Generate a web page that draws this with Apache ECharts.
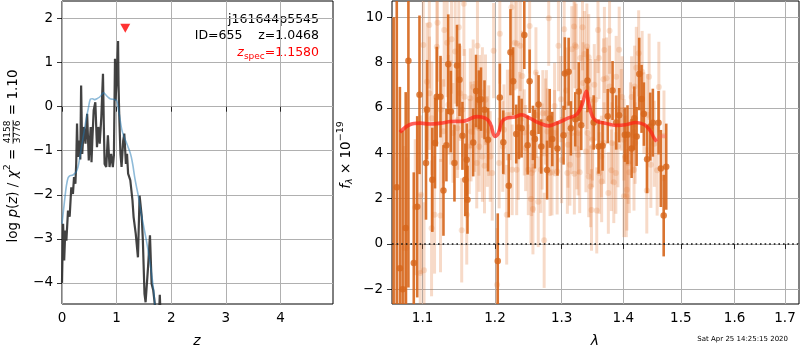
<!DOCTYPE html>
<html>
<head>
<meta charset="utf-8">
<script src="https://cdn.jsdelivr.net/npm/echarts@6/dist/echarts.min.js"></script>
<style>
  html, body { margin: 0; padding: 0; background: #fff; }
  #chart { width: 800px; height: 350px; }
</style>
</head>
<body>
<div id="chart"></div>
<script>
// ---- redshift probability panel ----
const zGrid = [0, 0.02, 0.04, 0.06, 0.08, 0.11, 0.14, 0.17, 0.2, 0.22, 0.245, 0.26, 0.275, 0.29, 0.32, 0.335, 0.35, 0.37, 0.40, 0.43, 0.46, 0.49, 0.525, 0.54, 0.555, 0.58, 0.61, 0.64, 0.665, 0.69, 0.72, 0.75, 0.765, 0.78, 0.81, 0.84, 0.87, 0.90, 0.93, 0.95, 0.97, 0.98, 1.0, 1.01, 1.026, 1.035, 1.045, 1.07, 1.09, 1.12, 1.14, 1.16, 1.17, 1.19, 1.21, 1.25, 1.29, 1.31, 1.35, 1.39, 1.42, 1.435, 1.46, 1.48, 1.51, 1.53, 1.545, 1.575, 1.61, 1.64, 1.67, 1.70, 1.74, 1.78, 1.79, 1.80];
const logPz = [-4.0, -2.66, -3.49, -2.81, -3.04, -2.36, -2.5, -1.83, -1.98, -1.6, -1.75, -1.3, -0.38, -1.14, -0.77, -1.2, 0.48, -1.07, -0.46, -0.84, -0.16, -1.22, -0.46, -1.26, -0.77, -0.08, 0.1, -0.92, -0.46, -0.84, -0.23, 0.75, -0.4, -1.3, -1.37, -0.65, -1.37, -1.07, -1.37, -1.1, 1.09, 0.14, 0.6, 0.94, 1.49, 0.5, -0.08, -1.07, -1.37, -0.77, -0.61, -0.61, -1.3, -1.07, -1.52, -1.67, -2.13, -2.5, -2.89, -3.42, -2.02, -2.05, -2.5, -3.04, -4.25, -4.44, -4.4, -3.64, -2.92, -4.02, -4.17, -4.5, -4.6, -4.6, -4.27, -4.6];
const zSmooth = [0, 0.05, 0.08, 0.11, 0.14, 0.17, 0.2, 0.23, 0.26, 0.29, 0.32, 0.36, 0.4, 0.44, 0.48, 0.52, 0.56, 0.6, 0.65, 0.69, 0.73, 0.76, 0.8, 0.84, 0.88, 0.93, 0.97, 1.0, 1.02, 1.04, 1.07, 1.1, 1.14, 1.18, 1.21, 1.24, 1.27, 1.3, 1.33, 1.36, 1.39, 1.42, 1.45, 1.5, 1.545, 1.6, 1.64, 1.68, 1.70, 1.72];
const logPzSmooth = [-2.66, -2.1, -1.8, -1.62, -1.57, -1.56, -1.55, -1.52, -1.48, -1.38, -1.2, -0.9, -0.6, -0.3, -0.05, 0.17, 0.18, 0.16, 0.19, 0.22, 0.28, 0.32, 0.27, 0.22, 0.18, 0.17, 0.16, 0.14, 0.05, -0.1, -0.35, -0.55, -0.7, -0.82, -0.92, -1.02, -1.15, -1.35, -1.6, -1.8, -1.98, -2.2, -2.43, -2.75, -3.04, -3.45, -3.8, -4.2, -4.5, -4.75];
const zSpecMarker = [1.158, 1.78];
const zTicks = [0, 1, 2, 3, 4];
const logPzTicks = [-4, -3, -2, -1, 0, 1, 2];

// ---- spectrum panel ----
const lamTicks = [1.1, 1.2, 1.3, 1.4, 1.5, 1.6, 1.7];
const fluxTicks = [-2, 0, 2, 4, 6, 8, 10];

// main grism extraction
const lamMain = [1.0625, 1.0665, 1.0705, 1.074, 1.078, 1.0815, 1.0885, 1.093, 1.096, 1.1046, 1.106, 1.113, 1.1166, 1.119, 1.124, 1.128, 1.132, 1.1345, 1.138, 1.143, 1.1465, 1.15, 1.154, 1.158, 1.16, 1.161, 1.169, 1.173, 1.177, 1.18, 1.185, 1.19, 1.204, 1.207, 1.212, 1.22, 1.2225, 1.2265, 1.231, 1.235, 1.239, 1.243, 1.248, 1.251, 1.256, 1.259, 1.2645, 1.2685, 1.2775, 1.2815, 1.2855, 1.2935, 1.303, 1.305, 1.311, 1.3145, 1.3215, 1.327, 1.331, 1.341, 1.351, 1.359, 1.3655, 1.374, 1.382, 1.388, 1.393, 1.4025, 1.407, 1.414, 1.4185, 1.4225, 1.427, 1.431, 1.435, 1.4405, 1.446, 1.4505, 1.4605, 1.4645, 1.4695, 1.474];
const fluxMain = [-4.0, 2.5, -1.07, -2.0, 0.70, 8.08, -0.84, 1.64, 6.58, 3.57, 5.92, 2.83, 4.45, 6.5, 6.5, 2.36, 4.36, 7.93, 5.84, 3.57, 7.87, 7.24, 4.77, 2.83, 3.72, 1.95, 4.48, 6.75, 6.36, 6.39, 5.92, 4.6, -0.75, 6.46, 4.49, 2.57, 8.46, 7.18, 4.85, 5.14, 5.11, 9.22, 4.36, 7.18, 4.9, 4.63, 6.15, 4.3, 3.26, 5.54, 4.63, 4.21, 4.8, 7.52, 7.6, 5.1, 5.5, 6.73, 5.24, 7.21, 5.36, 4.3, 4.33, 5.64, 6.77, 5.36, 5.68, 4.82, 4.82, 4.21, 5.55, 4.74, 7.5, 6.4, 5.73, 3.74, 5.18, 5.35, 5.35, 3.33, 1.25, 3.41];
const errMain = [14, 9, 8, 7, 6, 10, 4, 4, 3.5, 2.5, 2.2, 2.3, 2.0, 2.2, 1.8, 2.0, 1.6, 2.2, 1.8, 1.7, 1.8, 1.6, 1.5, 1.6, 1.6, 1.5, 1.5, 1.6, 1.3, 1.4, 1.3, 1.4, 2.1, 1.5, 1.4, 1.4, 1.9, 1.5, 1.3, 1.4, 1.3, 1.5, 1.3, 1.4, 1.2, 1.3, 1.3, 1.2, 1.3, 1.3, 1.2, 1.2, 1.3, 1.6, 1.5, 1.2, 1.2, 1.3, 1.1, 1.4, 1.2, 1.2, 1.1, 1.2, 1.3, 1.2, 1.2, 1.2, 1.3, 1.3, 1.4, 1.3, 1.6, 1.5, 1.4, 1.5, 1.5, 1.5, 1.4, 1.7, 1.8, 1.9];

// other exposures (drawn faint)
const lamOther = [1.076, 1.079, 1.097, 1.098, 1.101, 1.102, 1.109, 1.112, 1.116, 1.12, 1.124, 1.129, 1.133, 1.138, 1.139, 1.144, 1.147, 1.149, 1.153, 1.156, 1.16, 1.165, 1.166, 1.169, 1.175, 1.177, 1.178, 1.182, 1.185, 1.189, 1.191, 1.196, 1.198, 1.203, 1.207, 1.213, 1.217, 1.222, 1.224, 1.229, 1.232, 1.234, 1.237, 1.24, 1.243, 1.249, 1.251, 1.253, 1.256, 1.257, 1.2605, 1.264, 1.27, 1.271, 1.273, 1.275, 1.278, 1.28, 1.285, 1.289, 1.293, 1.295, 1.299, 1.304, 1.307, 1.31, 1.313, 1.316, 1.321, 1.324, 1.326, 1.3285, 1.333, 1.336, 1.34, 1.341, 1.343, 1.346, 1.349, 1.352, 1.356, 1.36, 1.364, 1.367, 1.368, 1.372, 1.377, 1.38, 1.384, 1.388, 1.391, 1.393, 1.398, 1.401, 1.403, 1.405, 1.41, 1.414, 1.418, 1.42, 1.422, 1.426, 1.432, 1.435, 1.44, 1.441, 1.444, 1.447, 1.453, 1.458, 1.461, 1.47,
  1.0904, 1.1058, 1.1092, 1.1124, 1.119, 1.1245, 1.128, 1.1346, 1.141, 1.1476, 1.1508, 1.1542, 1.157, 1.1635, 1.171, 1.174, 1.1775, 1.182, 1.1864, 1.1932, 1.206, 1.2113, 1.218, 1.225, 1.2317, 1.236, 1.245, 1.254, 1.2615, 1.268, 1.2765, 1.282, 1.289, 1.3, 1.309, 1.316, 1.3195, 1.323, 1.3295, 1.334, 1.3405, 1.32, 1.3265, 1.3385, 1.343, 1.346, 1.3475, 1.3495, 1.354, 1.3595, 1.358, 1.3635, 1.3685, 1.375, 1.377, 1.381, 1.3875, 1.3965, 1.401, 1.406, 1.408, 1.412, 1.418, 1.419];
const fluxOther = [-0.18, -0.18, -1.28, 2.17, 8.78, -1.16, 9.66, 0.69, 1.29, 9.76, 1.25, 9.44, 8.88, 5.8, 9.03, 8.49, 5.11, 9.56, 0.6, 10.6, 1.29, 6.43, 4.96, 6.92, 8.74, 5.11, 6.24, 6.68, 3.45, 4.52, 5.0, 3.13, 8.53, -1.8, 9.27, 5.04, 1.29, 5.7, 10.44, 8.88, 8.85, 3.94, 8.74, 7.41, 4.92, 3.27, 9.62, 1.98, 1.54, 3.27, 7.56, 1.86, 4.3, 5.77, 0.16, 5.4, 4.96, 9.96, 3.16, 6.09, 3.2, 8.74, 6.39, 9.47, 6.77, 4.38, 3.49, 8.59, 8.77, 4.21, 3.94, 3.16, 9.56, 8.38, 8.71, 4.89, 8.24, 6.36, 4.6, 7.02, 1.48, 3.13, 2.76, 7.27, 4.45, 7.31, 9.41, 3.25, 2.72, 7.38, 4.3, 8.57, 6.48, 2.1, 3.86, 2.1, 3.16, 6.48, 4.92, 4.45, 7.78, 8.41, 7.6, 5.77, 2.36, 5.7, 7.38, 3.49, 4.42, 3.25, 6.92, 4.77,
  1.62, 7.16, 6.65, 5.55, 8.7, 5.92, 4.97, 6.14, 4.9, 5.47, 6.65, 5.92, 6.5, 4.3, 5.18, 3.57, 4.3, 3.86, 6.36, 3.86, 3.57, 4.3, 5.69, 3.27, 3.27, 5.69, 4.23, 3.13, 5.69, 3.27, 5.77, 3.13, 4.89, 3.7, 3.13, 4.89, 9.59, 8.7, 8.2, 7.1, 6.87, 3.1, 4.89, 4.08, 2.98, 2.54, 1.5, 4.3, 6.36, 8.2, 9.44, 3.86, 8.56, 2.25, 6.95, 4.45, 3.13, 5.92, 4.6, 2.39, 3.57, 5.33, 3.27, 6.95];
const errOther = [4.5, 4.0, 3.5, 3.5, 3.0, 3.0, 2.8, 3.0, 2.6, 2.6, 2.5, 2.5, 2.4, 2.3, 2.4, 2.3, 2.2, 2.3, 2.3, 2.3, 2.2, 2.2, 2.2, 2.1, 2.2, 2.1, 2.1, 2.0, 2.1, 2.0, 2.0, 2.1, 2.1, 2.5, 2.2, 2.0, 2.2, 2.0, 2.2, 2.1, 2.0, 2.0, 2.0, 2.0, 1.9, 2.0, 2.1, 2.0, 2.0, 1.9, 2.0, 2.0, 1.9, 1.9, 2.1, 1.9, 1.9, 2.1, 1.9, 1.9, 1.9, 2.0, 1.9, 2.0, 1.9, 1.9, 1.8, 1.9, 1.9, 1.8, 1.8, 1.8, 1.9, 1.9, 1.9, 1.8, 1.9, 1.8, 1.8, 1.8, 1.9, 1.8, 1.8, 1.8, 1.8, 1.8, 1.9, 1.8, 1.8, 1.8, 1.8, 1.9, 1.8, 1.8, 1.8, 1.8, 1.8, 1.8, 1.8, 1.8, 1.8, 1.9, 1.8, 1.8, 1.9, 1.8, 1.9, 1.9, 1.9, 2.0, 2.0, 2.0,
  3.0, 2.6, 2.5, 2.5, 2.4, 2.3, 2.3, 2.2, 2.2, 2.2, 2.1, 2.1, 2.1, 2.1, 2.0, 2.0, 2.0, 2.0, 2.0, 2.0, 2.0, 2.0, 2.0, 2.0, 2.0, 1.9, 1.9, 1.9, 1.9, 1.9, 1.9, 1.9, 1.9, 1.9, 1.8, 1.8, 1.9, 1.9, 1.8, 1.8, 1.8, 1.8, 1.8, 1.8, 1.8, 1.8, 1.8, 1.8, 1.8, 1.8, 1.9, 1.8, 1.9, 1.8, 1.8, 1.8, 1.8, 1.8, 1.8, 1.8, 1.8, 1.8, 1.8, 1.8];

// best-fit model
const lamModel = [1.0705, 1.083, 1.097, 1.11, 1.124, 1.138, 1.156, 1.174, 1.186, 1.193, 1.2, 1.205, 1.21, 1.217, 1.229, 1.239, 1.251, 1.266, 1.28, 1.295, 1.31, 1.323, 1.331, 1.336, 1.339, 1.343, 1.349, 1.357, 1.37, 1.388, 1.404, 1.421, 1.436, 1.447, 1.452, 1.457];
const fluxModel = [4.93, 5.26, 5.33, 5.29, 5.33, 5.4, 5.42, 5.62, 5.55, 5.33, 4.74, 4.89, 5.4, 5.55, 5.6, 5.7, 5.55, 5.33, 5.21, 5.36, 5.55, 5.7, 6.06, 6.5, 6.73, 6.21, 5.62, 5.4, 5.33, 5.23, 5.26, 5.36, 5.26, 4.96, 4.7, 4.52];
const lamModelTail = [1.457, 1.463, 1.468, 1.474];
const fluxModelTail = [4.52, 4.74, 4.76, 4.74];

// ---- axis ranges ----
const Z_RANGE = [0, 4.96];
const LOGPZ_RANGE = [-4.48, 2.40];
const LAM_RANGE = [1.0604, 1.7288];
const FLUX_RANGE = [-2.65, 10.72];

const FONT = '"DejaVu Sans", sans-serif';
const ORANGE = '#d6651a';
const ORANGE_FAINT = 'rgba(226,120,50,0.27)';

const minusFmt = v => (v < 0 ? '\u2212' + Math.abs(v) : String(v));
const ln = Math.log;

// wavelength axis is logarithmic: coordinates are ln(lambda)
const toLogPairs = (lam, f) => lam.map((l, i) => [ln(l), f[i]]);

function errorBars(lam, flux, err, color, width, z) {
  return {
    type: 'custom', xAxisIndex: 1, yAxisIndex: 1, z: z, silent: true,
    data: lam.map((l, i) => [ln(l), flux[i], err[i]]),
    encode: { x: 0, y: 1 },
    renderItem: (params, api) => {
      const x = api.value(0), y = api.value(1), e = api.value(2);
      const lo = Math.max(y - e, FLUX_RANGE[0]);
      const hi = Math.min(y + e, FLUX_RANGE[1]);
      if (hi <= lo) return null;
      const a = api.coord([x, lo]), b = api.coord([x, hi]);
      return { type: 'line', shape: { x1: a[0], y1: a[1], x2: b[0], y2: b[1] },
               style: { stroke: color, lineWidth: width } };
    }
  };
}

// text layout helpers for mathematical labels
const mctx = document.createElement('canvas').getContext('2d');
function measure(t, font) { mctx.font = font; return mctx.measureText(t).width; }
function layoutParts(parts) {
  const kids = []; let x = 0;
  for (const p of parts) {
    const font = (p.italic ? 'italic ' : '') + p.size + 'px ' + FONT;
    const color = p.color || '#000';
    if (p.frac) {
      const w = Math.max(measure(p.frac[0], font), measure(p.frac[1], font));
      kids.push({ type: 'text', x: x + w / 2 + 1, y: -p.gap, style: { text: p.frac[0], font, fill: color, align: 'center', verticalAlign: 'middle' } });
      kids.push({ type: 'text', x: x + w / 2 + 1, y: p.gap, style: { text: p.frac[1], font, fill: color, align: 'center', verticalAlign: 'middle' } });
      kids.push({ type: 'line', shape: { x1: x + 0.5, y1: 0, x2: x + w + 1.5, y2: 0 }, style: { stroke: color, lineWidth: 0.7 } });
      x += w + 2;
    } else {
      kids.push({ type: 'text', x: x, y: p.dy || 0, style: { text: p.t, font, fill: color, align: 'left', verticalAlign: 'middle' } });
      x += measure(p.t, font);
    }
  }
  return { kids, len: x };
}
// vertical label, reading bottom to top, centred on (cx, cy)
function verticalLabel(parts, cx, cy) {
  const l = layoutParts(parts);
  return { type: 'group', x: cx, y: cy + l.len / 2, rotation: Math.PI / 2, children: l.kids };
}
function rightAlignedLabel(parts, xRight, y) {
  const l = layoutParts(parts);
  return { type: 'group', x: xRight - l.len, y: y, children: l.kids };
}

const S = 13.5, SS = 9.5;
const pzLabel = verticalLabel([
  { t: 'log ', size: S }, { t: 'p', size: S, italic: true }, { t: '(', size: S },
  { t: 'z', size: S, italic: true }, { t: ') / ', size: S }, { t: '\u03c7', size: S, italic: true },
  { t: '2', size: SS, dy: -5 }, { t: ' = ', size: S },
  { frac: ['4158', '3776'], size: 9, gap: 5 }, { t: ' = 1.10', size: S }
], 13, 156);
const fluxLabel = verticalLabel([
  { t: 'f', size: S, italic: true }, { t: '\u03bb', size: SS, italic: true, dy: 3.5 },
  { t: ' \u00d7 10', size: S }, { t: '\u221219', size: SS, dy: -5 }
], 346, 155);
const zspecLabel = rightAlignedLabel([
  { t: 'z', size: 12.5, italic: true, color: '#ff0000' },
  { t: 'spec', size: 9, dy: 3.5, color: '#ff0000' },
  { t: '=1.1580', size: 12.5, color: '#ff0000' }
], 319, 53);

const gridLine = { show: true, lineStyle: { color: '#b0b0b0', width: 1 } };
const tickStyle = (vals) => ({ show: true, inside: false, length: 5, customValues: vals, lineStyle: { color: '#000', width: 0.8 } });

const chart = echarts.init(document.getElementById('chart'), null, { renderer: 'canvas' });
chart.setOption({
  animation: false,
  backgroundColor: '#fff',
  textStyle: { fontFamily: FONT },
  grid: [
    { left: 62, top: 1, width: 271, height: 303, show: true, borderColor: '#000', borderWidth: 1, containLabel: false },
    { left: 392, top: 1, width: 407, height: 303, show: true, borderColor: '#000', borderWidth: 1, containLabel: false }
  ],
  xAxis: [
    { type: 'value', gridIndex: 0, min: Z_RANGE[0], max: Z_RANGE[1],
      axisLine: { show: false }, axisTick: tickStyle(zTicks),
      axisLabel: { customValues: zTicks, color: '#000', fontSize: 13.5, fontFamily: FONT, margin: 7 },
      splitLine: gridLine },
    { type: 'value', gridIndex: 1, min: ln(LAM_RANGE[0]), max: ln(LAM_RANGE[1]),
      axisLine: { show: false }, axisTick: tickStyle(lamTicks.map(ln)),
      axisLabel: { customValues: lamTicks.map(ln), color: '#000', fontSize: 13.5, fontFamily: FONT, margin: 7,
                   formatter: v => Math.exp(v).toFixed(1) },
      splitLine: gridLine }
  ],
  yAxis: [
    { type: 'value', gridIndex: 0, min: LOGPZ_RANGE[0], max: LOGPZ_RANGE[1],
      axisLine: { show: false }, axisTick: tickStyle(logPzTicks),
      axisLabel: { customValues: logPzTicks, color: '#000', fontSize: 13.5, fontFamily: FONT, margin: 9, formatter: minusFmt },
      splitLine: gridLine },
    { type: 'value', gridIndex: 1, min: FLUX_RANGE[0], max: FLUX_RANGE[1],
      axisLine: { show: false }, axisTick: tickStyle(fluxTicks),
      axisLabel: { customValues: fluxTicks, color: '#000', fontSize: 13.5, fontFamily: FONT, margin: 9, formatter: minusFmt },
      splitLine: gridLine }
  ],
  series: [
    { type: 'line', xAxisIndex: 0, yAxisIndex: 0, z: 3, symbol: 'none',
      data: zGrid.map((z, i) => [z, logPz[i]]),
      lineStyle: { color: 'rgba(45,45,45,0.9)', width: 2.2 } },
    { type: 'line', xAxisIndex: 0, yAxisIndex: 0, z: 4, symbol: 'none', smooth: 0.3,
      data: zSmooth.map((z, i) => [z, logPzSmooth[i]]),
      lineStyle: { color: 'rgba(31,119,180,0.5)', width: 1.6 } },
    { type: 'scatter', xAxisIndex: 0, yAxisIndex: 0, z: 5, symbol: 'triangle', symbolRotate: 180,
      symbolSize: [10, 9], data: [zSpecMarker], itemStyle: { color: '#ff0000' } },

    errorBars(lamOther, fluxOther, errOther, ORANGE_FAINT, 3, 2),
    { type: 'scatter', xAxisIndex: 1, yAxisIndex: 1, z: 3, symbolSize: 6,
      data: toLogPairs(lamOther, fluxOther), itemStyle: { color: ORANGE_FAINT } },
    errorBars(lamMain, fluxMain, errMain, 'rgba(214,101,26,0.9)', 2.6, 4),
    { type: 'scatter', xAxisIndex: 1, yAxisIndex: 1, z: 5, symbolSize: 6.5,
      data: toLogPairs(lamMain, fluxMain), itemStyle: { color: ORANGE } },
    { type: 'line', xAxisIndex: 1, yAxisIndex: 1, z: 6, symbol: 'none', smooth: 0.35,
      data: toLogPairs(lamModel, fluxModel),
      lineStyle: { color: 'rgba(255,30,20,0.7)', width: 3.6 },
      markLine: { silent: true, symbol: ['none', 'none'], label: { show: false },
                  lineStyle: { color: '#111', width: 1.6, type: [1.6, 3] },
                  data: [{ yAxis: 0 }] } },
    { type: 'line', xAxisIndex: 1, yAxisIndex: 1, z: 6, symbol: 'none', smooth: 0.3,
      data: toLogPairs(lamModelTail, fluxModelTail),
      lineStyle: { color: 'rgba(255,90,90,0.35)', width: 3.5 } }
  ],
  graphic: [
    pzLabel, fluxLabel, zspecLabel,
    { type: 'text', x: 319, y: 20, style: { text: 'j161644p5545', font: '12.5px ' + FONT, fill: '#000', align: 'right', verticalAlign: 'middle' } },
    { type: 'text', x: 319, y: 36, style: { text: 'ID=655    z=1.0468', font: '12.5px ' + FONT, fill: '#000', align: 'right', verticalAlign: 'middle' } },
    { type: 'text', x: 197, y: 341, style: { text: 'z', font: 'italic 14px ' + FONT, fill: '#000', align: 'center', verticalAlign: 'middle' } },
    { type: 'text', x: 595, y: 341, style: { text: '\u03bb', font: 'italic 14px ' + FONT, fill: '#000', align: 'center', verticalAlign: 'middle' } },
    { type: 'text', x: 788, y: 339, style: { text: 'Sat Apr 25 14:25:15 2020', font: '7px ' + FONT, fill: '#000', align: 'right', verticalAlign: 'middle' } }
  ]
});
</script>
</body>
</html>
